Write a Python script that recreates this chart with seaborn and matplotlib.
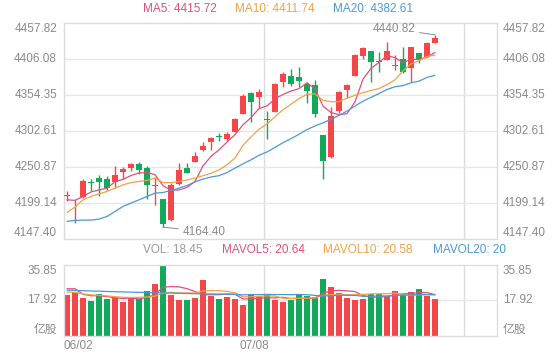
import numpy as np
import pandas as pd
import matplotlib
matplotlib.use("Agg")
import matplotlib.pyplot as plt
import seaborn as sns

# ---------------- data ----------------
opens = [4209.0, 4191.3, 4207.6, 4229.5, 4235.3, 4233.3, 4229.0, 4244.3, 4250.1, 4254.8,
         4250.1, 4224.0, 4205.2, 4174.1, 4226.2, 4250.1, 4258.7, 4275.4, 4286.4, 4295.0,
         4290.7, 4301.7, 4327.0, 4357.0, 4351.8, 4319.5, 4330.3, 4373.3, 4381.4, 4380.5,
         4369.9, 4368.5, 4296.9, 4264.9, 4331.7, 4361.3, 4381.4, 4410.5, 4417.2, 4402.6,
         4405.3, 4395.6, 4406.7, 4393.3, 4415.3, 4409.1, 4429.2]
closes = [4209.9, 4192.2, 4231.0, 4228.3, 4228.6, 4221.4, 4239.6, 4248.1, 4255.3, 4247.2,
          4224.3, 4224.9, 4168.4, 4225.2, 4246.7, 4242.9, 4266.8, 4281.6, 4292.1, 4294.0,
          4298.3, 4319.8, 4352.8, 4344.6, 4358.0, 4318.2, 4369.9, 4384.3, 4369.9, 4374.7,
          4360.4, 4327.0, 4259.6, 4324.1, 4358.9, 4368.5, 4411.5, 4422.5, 4401.5, 4401.6,
          4417.7, 4396.5, 4387.6, 4423.4, 4405.3, 4429.2, 4436.8]
highs = [4217.1, 4203.7, 4233.8, 4233.3, 4239.1, 4238.1, 4252.4, 4251.5, 4257.2, 4258.2,
         4252.4, 4237.2, 4205.2, 4227.6, 4256.3, 4256.3, 4272.5, 4286.8, 4293.5, 4300.2,
         4301.7, 4320.7, 4355.6, 4358.0, 4362.8, 4331.7, 4372.3, 4387.6, 4392.4, 4394.8,
         4373.3, 4375.7, 4296.9, 4336.5, 4360.4, 4369.9, 4413.9, 4423.4, 4417.2, 4416.3,
         4430.6, 4411.5, 4423.4, 4423.4, 4415.3, 4430.6, 4440.82]
lows = [4201.4, 4170.3, 4206.1, 4217.1, 4209.5, 4218.1, 4221.4, 4233.3, 4245.3, 4241.0,
        4204.7, 4196.6, 4164.40, 4172.7, 4224.3, 4242.9, 4258.7, 4273.9, 4275.4, 4288.8,
        4288.8, 4300.7, 4327.0, 4316.0, 4335.1, 4290.7, 4330.3, 4365.2, 4367.1, 4366.1,
        4342.2, 4323.1, 4233.8, 4263.4, 4328.9, 4349.4, 4381.4, 4406.7, 4373.3, 4387.6,
        4404.3, 4390.0, 4386.2, 4373.3, 4401.0, 4409.1, 4429.2]

ma5 = [4203.7, 4203.0, 4208.5, 4215.0, 4217.9, 4220.3, 4229.8, 4233.2, 4238.6, 4242.3,
       4242.9, 4239.9, 4223.9, 4217.9, 4217.8, 4221.5, 4230.0, 4252.6, 4266.0, 4275.6,
       4286.7, 4297.3, 4311.5, 4322.0, 4334.7, 4338.7, 4348.8, 4355.1, 4360.1, 4363.5,
       4371.8, 4363.3, 4338.3, 4329.2, 4326.0, 4327.6, 4344.5, 4377.1, 4392.6, 4401.2,
       4411.0, 4407.9, 4401.0, 4405.3, 4406.0, 4408.3, 4415.72]
ma10 = [4185.6, 4193.2, 4203.7, 4208.5, 4212.3, 4215.7, 4220.5, 4225.2, 4228.5, 4230.1,
        4231.6, 4234.9, 4228.6, 4228.3, 4230.1, 4232.2, 4235.0, 4238.3, 4242.0, 4246.7,
        4254.1, 4263.7, 4282.1, 4294.0, 4305.2, 4312.7, 4323.1, 4333.3, 4341.1, 4349.1,
        4355.3, 4356.1, 4346.7, 4344.7, 4344.8, 4349.7, 4353.9, 4357.7, 4360.9, 4363.6,
        4369.3, 4376.2, 4389.1, 4399.0, 4403.6, 4409.7, 4411.74]
ma20 = [4172.7, 4174.1, 4174.6, 4174.6, 4176.0, 4179.8, 4187.0, 4194.2, 4199.0, 4203.7,
        4208.5, 4213.3, 4214.2, 4217.1, 4220.5, 4224.3, 4229.5, 4233.5, 4236.5, 4238.4,
        4242.9, 4249.3, 4255.4, 4261.2, 4267.7, 4272.5, 4279.1, 4285.8, 4291.6, 4297.9,
        4304.7, 4309.9, 4314.4, 4319.4, 4325.0, 4331.2, 4338.5, 4345.5, 4351.0, 4356.4,
        4362.3, 4366.2, 4367.9, 4371.9, 4374.2, 4379.7, 4382.61]

volumes = [20.4, 22.1, 19.1, 17.6, 21.1, 18.3, 19.4, 16.9, 19.1, 18.6,
           22.5, 26.0, 35.85, 20.4, 18.1, 17.9, 18.8, 27.9, 20.1, 18.4,
           19.6, 18.3, 15.6, 20.8, 19.8, 20.8, 17.9, 17.1, 17.8, 20.4,
           20.1, 19.6, 28.5, 24.5, 21.3, 18.8, 17.8, 18.3, 21.0, 21.0,
           20.1, 22.6, 20.4, 21.8, 23.6, 19.8, 18.45]
mavol5 = [23.6, 23.6, 20.8, 20.1, 20.06, 19.64, 19.1, 18.66, 18.96, 18.46,
          19.3, 20.62, 24.41, 24.67, 24.57, 23.65, 22.21, 20.62, 20.56, 20.62,
          20.96, 20.86, 18.4, 18.54, 18.82, 19.06, 18.98, 19.28, 18.68, 18.8,
          18.66, 19.0, 21.28, 22.62, 22.8, 22.54, 22.18, 20.14, 19.44, 19.38,
          19.64, 20.6, 21.02, 21.18, 21.7, 21.64, 20.64]
mavol10 = [22.0, 21.8, 21.0, 20.5, 20.3, 20.0, 19.6, 19.3, 19.2, 19.26,
           19.47, 19.86, 21.54, 21.82, 21.52, 21.48, 21.42, 22.52, 22.62, 22.6,
           22.3, 21.54, 19.51, 19.55, 19.72, 20.01, 19.92, 18.84, 18.61, 18.81,
           18.86, 18.99, 20.28, 20.65, 20.8, 20.6, 20.59, 20.71, 21.03, 21.09,
           21.09, 21.39, 20.58, 20.31, 20.54, 20.64, 20.58]
mavol20 = [22.9, 22.8, 22.6, 22.5, 22.4, 22.2, 22.1, 22.0, 21.9, 21.8,
           21.7, 21.6, 21.5, 21.4, 21.3, 21.2, 21.1, 21.0, 21.0, 20.93,
           20.89, 20.7, 20.53, 20.69, 20.62, 20.75, 20.67, 20.68, 20.62, 20.71,
           20.58, 20.27, 19.9, 20.1, 20.26, 20.31, 20.26, 19.78, 19.82, 19.95,
           19.98, 20.19, 20.43, 20.48, 20.67, 20.62, 20.59]

price_ticks = [4457.82, 4406.08, 4354.35, 4302.61, 4250.87, 4199.14, 4147.40]
vol_ticks = [35.85, 17.92, 0.0]
vol_tick_labels = ["35.85", "17.92", "亿股"]
date_labels = ["06/02", "07/08"]
date_label_pos = [0, 25]
max_label = "4440.82"
min_label = "4164.40"

# ---------------- style ----------------
sns.set_theme(style="white")
plt.rcParams["font.family"] = ["Liberation Sans", "Noto Sans CJK SC", "DejaVu Sans"]

RED = "#f5474b"
GREEN = "#13a85b"
C5 = "#e0507a"
C10 = "#f3a144"
C20 = "#4a98d3"
TXT = "#8a8a8a"
GRID = "#e6e6e6"
FS = 8.5

W, H = 560, 360
fig = plt.figure(figsize=(W / 100, H / 100), dpi=100)
fig.patch.set_facecolor("white")


def box(l, t, r, b):
    return [l / W, 1 - b / H, (r - l) / W, (b - t) / H]


ax = fig.add_axes(box(64, 23, 497, 239))
axv = fig.add_axes(box(64, 264.5, 497, 335.5))

df = pd.DataFrame({"i": np.arange(len(opens)), "open": opens, "close": closes,
                   "high": highs, "low": lows, "vol": volumes,
                   "ma5": ma5, "ma10": ma10, "ma20": ma20,
                   "mavol5": mavol5, "mavol10": mavol10, "mavol20": mavol20})
up = df["close"] >= df["open"]
colors = np.where(up, RED, GREEN)

x0 = -0.375
x1 = x0 + 433 / 8
for a in (ax, axv):
    a.set_xlim(x0, x1)
    a.set_xticks([])
    a.set_yticks([])
    for s in a.spines.values():
        s.set_color("#dcdcdc")
        s.set_linewidth(1)
    for p in date_label_pos[1:] + [50]:
        a.axvline(p + x0, color="#dcdcdc", lw=1, zorder=0)

ax.set_ylim(price_ticks[-1], price_ticks[0])
axv.set_ylim(0, vol_ticks[0])

for t in price_ticks[1:-1]:
    ax.axhline(t, color=GRID, lw=1, zorder=0)
axv.axhline(vol_ticks[1], color=GRID, lw=1, zorder=0)

# candles
ax.vlines(df["i"], df["low"], df["high"], colors=colors, lw=1, zorder=2)
body_h = np.maximum((df["close"] - df["open"]).abs(), 1.3)
body_b = np.minimum(df["open"], df["close"])
ax.bar(df["i"], body_h, bottom=body_b, width=0.75, color=colors, linewidth=0, zorder=3)

for col, c in (("ma5", C5), ("ma10", C10), ("ma20", C20)):
    sns.lineplot(data=df, x="i", y=col, ax=ax, color=c, linewidth=0.9, zorder=4)

axv.bar(df["i"], df["vol"], width=0.75, color=colors, linewidth=0, zorder=2)
for col, c in (("mavol5", C5), ("mavol10", C10), ("mavol20", C20)):
    sns.lineplot(data=df, x="i", y=col, ax=axv, color=c, linewidth=0.9, zorder=4)

for a in (ax, axv):
    a.set_xlabel("")
    a.set_ylabel("")

# y labels both sides
ytr = ax.get_yaxis_transform()
for k, t in enumerate(price_ticks):
    va = "top" if k == 0 else ("bottom" if k == len(price_ticks) - 1 else "center")
    ax.text(-7 / 433, t, f"{t:.2f}", transform=ytr, ha="right", va=va, fontsize=FS, color=TXT)
    ax.text(1 + 6 / 433, t, f"{t:.2f}", transform=ytr, ha="left", va=va, fontsize=FS, color=TXT)
vtr = axv.get_yaxis_transform()
for k, (t, lab) in enumerate(zip(vol_ticks, vol_tick_labels)):
    va = "top" if k == 0 else ("bottom" if k == len(vol_ticks) - 1 else "center")
    axv.text(-7 / 433, t, lab, transform=vtr, ha="right", va=va, fontsize=FS, color=TXT)
    axv.text(1 + 6 / 433, t, lab, transform=vtr, ha="left", va=va, fontsize=FS, color=TXT)

# date labels
xtr = axv.get_xaxis_transform()
axv.text(date_label_pos[0] + x0, -0.07, date_labels[0], transform=xtr, ha="left", va="top",
         fontsize=FS, color=TXT)
axv.text(date_label_pos[1] + x0 - 1.15, -0.07, date_labels[1], transform=xtr, ha="center", va="top",
         fontsize=FS, color=TXT)

# max / min annotations
imax = int(np.argmax(highs))
imin = int(np.argmin(lows))
ax.annotate(max_label, xy=(imax, highs[imax]), xytext=(-14.4, 4.3), textcoords="offset points",
            ha="right", va="center", fontsize=FS, color=TXT,
            arrowprops=dict(arrowstyle="-", color=TXT, lw=0.7, shrinkA=1, shrinkB=0))
ax.annotate(min_label, xy=(imin, lows[imin]), xytext=(14.4, -3.2), textcoords="offset points",
            ha="left", va="center", fontsize=FS, color=TXT,
            arrowprops=dict(arrowstyle="-", color=TXT, lw=0.7, shrinkA=1, shrinkB=0))

# header legends
def htext(x, y, s, c):
    fig.text(x / W, 1 - y / H, s, ha="left", va="center", fontsize=FS, color=c)

htext(142.7, 9.5, f"MA5: {ma5[-1]:.2f}", C5)
htext(235, 9.5, f"MA10: {ma10[-1]:.2f}", C10)
htext(333, 9.5, f"MA20: {ma20[-1]:.2f}", C20)
htext(143, 250, f"VOL: {volumes[-1]:.2f}", "#999999")
htext(222, 250, f"MAVOL5: {mavol5[-1]:.2f}", C5)
htext(323, 250, f"MAVOL10: {mavol10[-1]:.2f}", C10)
htext(433, 250, "MAVOL20: 20", C20)

fig.savefig("out.png", dpi=100)
